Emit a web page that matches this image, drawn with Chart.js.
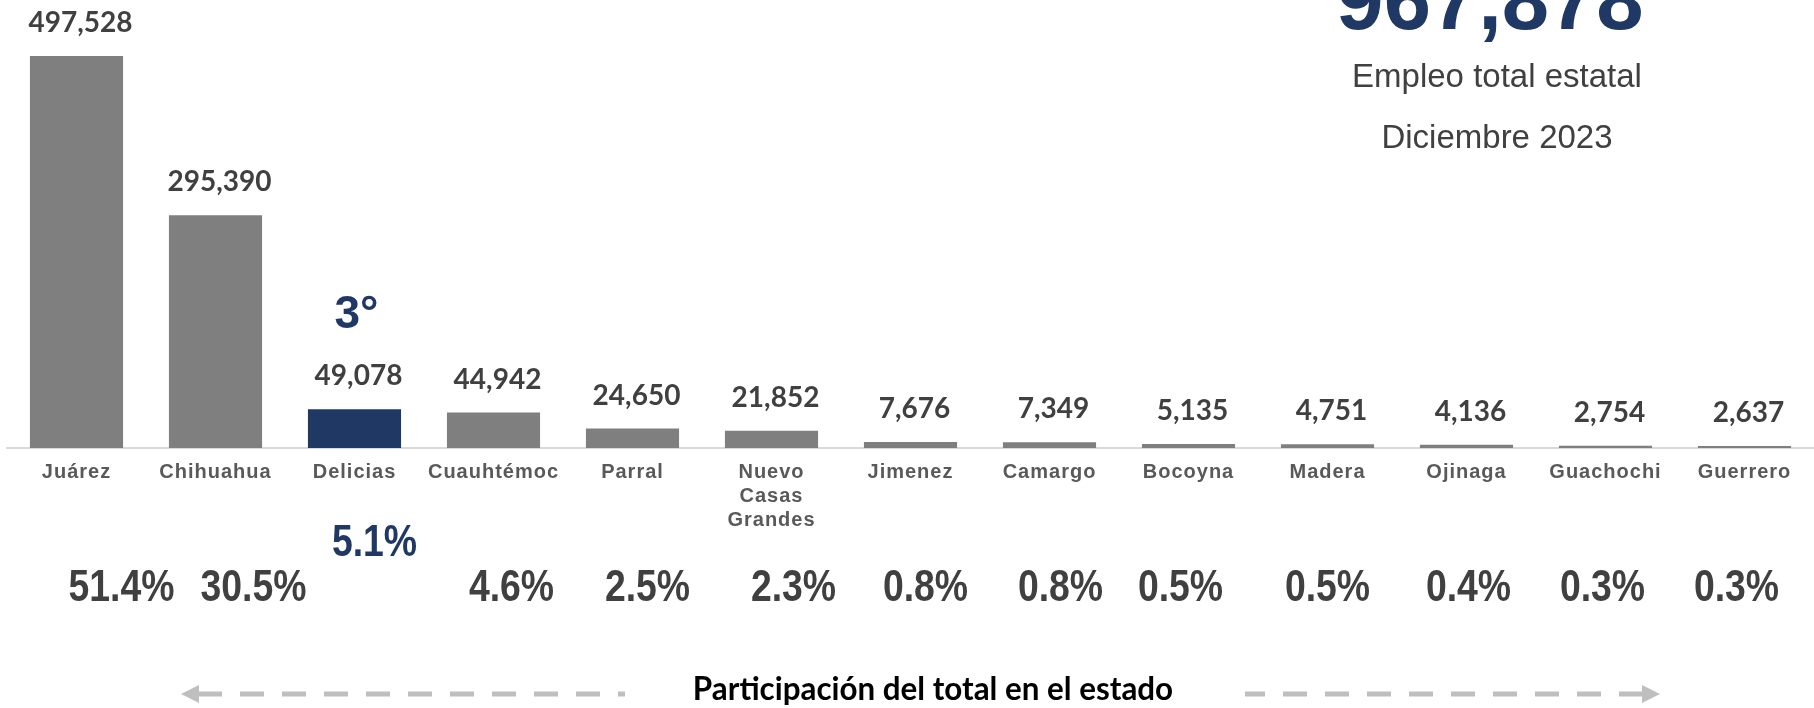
<!DOCTYPE html>
<html>
<head>
<meta charset="utf-8">
<script src="https://cdn.jsdelivr.net/npm/chart.js@4.4.0/dist/chart.umd.min.js"></script>
<style>
  body { margin: 0; background: #fff; }
  #wrap { width: 1814px; height: 708px; position: relative; }
</style>
</head>
<body>
<div id="wrap"><canvas id="empleoChart"></canvas></div>
<script>
const municipios = ['Juárez', 'Chihuahua', 'Delicias', 'Cuauhtémoc', 'Parral', ['Nuevo', 'Casas', 'Grandes'],
  'Jimenez', 'Camargo', 'Bocoyna', 'Madera', 'Ojinaga', 'Guachochi', 'Guerrero'];
const empleo = [497528, 295390, 49078, 44942, 24650, 21852, 7676, 7349, 5135, 4751, 4136, 2754, 2637];
const participacion = ['51.4%', '30.5%', '5.1%', '4.6%', '2.5%', '2.3%', '0.8%', '0.8%', '0.5%', '0.5%', '0.4%', '0.3%', '0.3%'];
const destacado = 2;
const lugar = '3°';
const totalEstatal = 967878;
const tituloLineas = ['Empleo total estatal', 'Diciembre 2023'];
const pie = 'Participación del total en el estado';

// small horizontal nudges so the % texts sit like in the original slide
const pctNudge = [45, 38, 20, 18, 15, 22, 15, 11, -8, 0, 2, -3, -8];

const gris = '#7f7f7f';
const azul = '#203864';
const texto = '#404040';
const fmt = n => n.toLocaleString('en-US');

function dashedArrow(ctx, x1, x2, y, dir) {
  // dir = -1 arrow tip at x1 (left), 1 tip at x2 (right)
  ctx.save();
  ctx.strokeStyle = '#bfbfbf';
  ctx.fillStyle = '#bfbfbf';
  ctx.lineWidth = 5;
  const head = 18;
  ctx.beginPath();
  if (dir < 0) {
    ctx.moveTo(x1, y); ctx.lineTo(x1 + head, y - 9); ctx.lineTo(x1 + head, y + 9);
  } else {
    ctx.moveTo(x2, y); ctx.lineTo(x2 - head, y - 9); ctx.lineTo(x2 - head, y + 9);
  }
  ctx.closePath();
  ctx.fill();
  ctx.setLineDash([24, 18]);
  ctx.beginPath();
  if (dir < 0) {
    ctx.moveTo(x1 + head - 1, y); ctx.lineTo(x2, y);
  } else {
    ctx.moveTo(x2 - head + 1, y); ctx.lineTo(x1, y);
  }
  ctx.stroke();
  ctx.restore();
}

// narrow-looking text: no Arial Narrow here, so squeeze horizontally
function narrowText(ctx, t, x, y, sx) {
  ctx.save();
  ctx.translate(x, y);
  ctx.scale(sx, 1);
  ctx.fillText(t, 0, 0);
  ctx.restore();
}

const etiquetas = {
  id: 'etiquetas',
  beforeDraw(chart) {
    // category names are a bit letter-spaced in the original
    chart.ctx.letterSpacing = '1px';
  },
  beforeDatasetsDraw(chart) {
    chart.ctx.letterSpacing = '0px';
  },
  afterDatasetsDraw(chart) {
    const ctx = chart.ctx;
    const meta = chart.getDatasetMeta(0);
    ctx.save();
    ctx.textAlign = 'center';
    ctx.textBaseline = 'middle';
    meta.data.forEach((bar, i) => {
      ctx.fillStyle = texto;
      ctx.font = 'bold 28px Lato, "Liberation Sans", sans-serif';
      ctx.fillText(fmt(empleo[i]), bar.x + 4, bar.y - 33);

      const pctY = i === destacado ? 544 : 589;
      ctx.fillStyle = i === destacado ? azul : texto;
      ctx.font = 'bold 44px "Liberation Sans", Arial, sans-serif';
      narrowText(ctx, participacion[i], bar.x + pctNudge[i], pctY, 0.85);

      if (i === destacado) {
        ctx.fillStyle = azul;
        ctx.font = 'bold 46px "Liberation Sans", Arial, sans-serif';
        ctx.fillText(lugar, bar.x + 2, bar.y - 94);
      }
    });

    // state total, top right
    ctx.textBaseline = 'alphabetic';
    ctx.fillStyle = azul;
    ctx.font = 'bold 85px "Liberation Sans", Arial, sans-serif';
    ctx.fillText(fmt(totalEstatal), 1490, 29);
    ctx.fillStyle = texto;
    ctx.font = '33px "Liberation Sans", Arial, sans-serif';
    ctx.fillText(tituloLineas[0], 1497, 87);
    ctx.fillText(tituloLineas[1], 1497, 148);

    // footer caption with arrows
    ctx.textBaseline = 'middle';
    ctx.fillStyle = '#000';
    ctx.font = 'bold 32px Lato, "Liberation Sans", sans-serif';
    narrowText(ctx, pie, 933, 690, 0.98);
    ctx.restore();
    dashedArrow(ctx, 181, 625, 694, -1);
    dashedArrow(ctx, 1245, 1660, 694, 1);
  }
};

new Chart(document.getElementById('empleoChart'), {
  type: 'bar',
  data: {
    labels: municipios,
    datasets: [{
      data: empleo,
      backgroundColor: empleo.map((v, i) => i === destacado ? azul : gris),
      borderWidth: 0,
      categoryPercentage: 1,
      barPercentage: 0.67
    }]
  },
  options: {
    responsive: true,
    maintainAspectRatio: false,
    animation: false,
    layout: { padding: { left: 7, right: 0, top: 56, bottom: 0 } },
    plugins: {
      legend: { display: false },
      tooltip: { enabled: false }
    },
    scales: {
      x: {
        grid: { display: false, drawTicks: false },
        border: { display: true, color: '#d9d9d9', width: 2 },
        ticks: {
          color: '#595959',
          padding: 12,
          maxRotation: 0,
          autoSkip: false,
          font: { family: '"Liberation Sans", Arial, sans-serif', size: 20, weight: 'bold', lineHeight: 1.2 }
        },
        afterFit: s => { s.height = 260; }
      },
      y: {
        display: false,
        min: 0,
        max: Math.max(...empleo)
      }
    }
  },
  plugins: [etiquetas]
});
</script>
</body>
</html>
